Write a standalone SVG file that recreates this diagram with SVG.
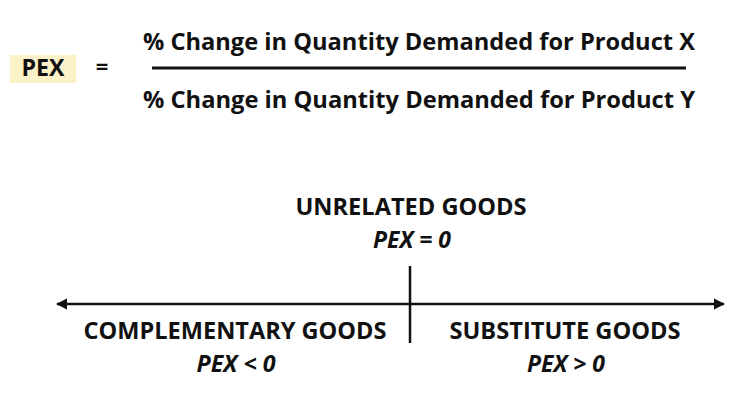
<svg xmlns="http://www.w3.org/2000/svg" width="754" height="408" viewBox="0 0 754 408">
<style>
text{font-family:"Open Sans","Liberation Sans",sans-serif;font-weight:700;fill:#111;}
.f{font-size:24px;}
.h{font-size:24px;text-anchor:middle;}
.i{font-size:23px;font-style:italic;text-anchor:middle;}
.ln{stroke:#111;stroke-width:2.5;fill:none;}
</style>
<defs>
<marker id="ah" viewBox="0 0 10 10" refX="9" refY="5" markerWidth="4.5" markerHeight="4.5" orient="auto-start-reverse">
<path d="M0,0 L10,5 L0,10 z" fill="#111"/>
</marker>
</defs>
<rect width="754" height="408" fill="#fff"/>
<g id="formula">
<rect x="10" y="55" width="66" height="28" fill="#fcf2c8"/>
<text x="43" y="76" font-size="24" text-anchor="middle" textLength="43" lengthAdjust="spacingAndGlyphs">PEX</text>
<text x="102" y="74" font-size="22" text-anchor="middle">=</text>
<text class="f" x="143" y="50" textLength="552" lengthAdjust="spacingAndGlyphs">% Change in Quantity Demanded for Product X</text>
<line x1="152" y1="68" x2="686" y2="68" stroke="#111" stroke-width="3"/>
<text class="f" x="143" y="108" textLength="552" lengthAdjust="spacingAndGlyphs">% Change in Quantity Demanded for Product Y</text>
</g>
<g id="connectors">
<line class="ln" x1="57" y1="304" x2="724" y2="304" marker-start="url(#ah)" marker-end="url(#ah)"/>
<line class="ln" x1="410" y1="266" x2="410" y2="343"/>
</g>
<g id="unrelated">
<text class="h" x="411" y="215" textLength="231" lengthAdjust="spacingAndGlyphs">UNRELATED GOODS</text>
<text class="i" x="412" y="248" textLength="78" lengthAdjust="spacingAndGlyphs">PEX = 0</text>
</g>
<g id="complementary">
<text class="h" x="235" y="339" textLength="303" lengthAdjust="spacingAndGlyphs">COMPLEMENTARY GOODS</text>
<text class="i" x="236" y="372" textLength="79" lengthAdjust="spacingAndGlyphs">PEX &lt; 0</text>
</g>
<g id="substitute">
<text class="h" x="565" y="339" textLength="231" lengthAdjust="spacingAndGlyphs">SUBSTITUTE GOODS</text>
<text class="i" x="566" y="372" textLength="78" lengthAdjust="spacingAndGlyphs">PEX &gt; 0</text>
</g>
</svg>
